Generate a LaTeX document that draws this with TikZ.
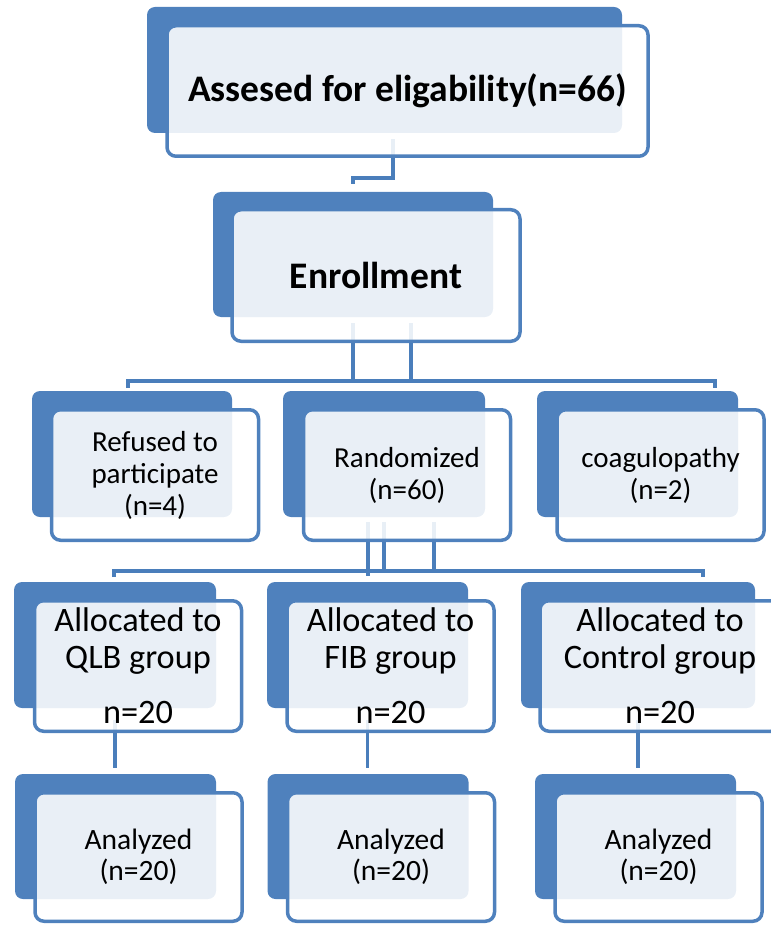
\documentclass[tikz,border=0pt]{standalone}
\usepackage{fontspec}
\setmainfont{Carlito}
\usepackage{xcolor}
\definecolor{smartblue}{RGB}{79,129,189}
\definecolor{linkblue}{RGB}{74,126,187}
\usepackage{tikz}
\usetikzlibrary{calc, backgrounds}
\tikzset{
  backbox/.style={
    rectangle, rounded corners=8pt, fill=smartblue, inner sep=0pt,
    minimum width=201pt, minimum height=126pt
  },
  frontbox/.style={
    rectangle, rounded corners=9pt, draw=smartblue, line width=3.5pt,
    fill=white, fill opacity=0.88, text opacity=1, inner sep=0pt,
    minimum width=207pt, minimum height=130.5pt,
    text centered, align=center, font=\fontsize{29}{32}\selectfont
  },
  headfont/.style={font=\fontsize{37.5}{44}\selectfont\bfseries},
  groupfont/.style={font=\fontsize{34.3}{36.5}\selectfont},
  countfont/.style={font=\fontsize{29.5}{31.5}\selectfont},
  link/.style={draw=linkblue, line width=3.5pt},
}

\begin{document}
\begin{tikzpicture}[x=1pt, y=1pt]
  \useasboundingbox (0,0) rectangle (770,-925);

  % back plates
  \node (elig-b) [backbox, minimum width=475pt] at (384.5,-70)  {};
  \node (enr-b)  [backbox, minimum width=280pt, minimum height=125pt] at (353,-254.5) {};
  \node (ref-b)  [backbox, minimum width=200pt] at (132,-454)   {};
  \node (rand-b) [backbox, minimum width=202pt] at (384,-454)   {};
  \node (coag-b) [backbox]                      at (637.5,-454) {};
  \node (qlb-b)  [backbox, minimum width=202pt] at (115,-645)   {};
  \node (fib-b)  [backbox]                      at (367.5,-645) {};
  \node (ctrl-b) [backbox, minimum width=234pt] at (638,-645)   {};
  \node (an1-b)  [backbox, minimum height=125pt] at (115.5,-836.5) {};
  \node (an2-b)  [backbox, minimum height=125pt] at (368,-836.5)   {};
  \node (an3-b)  [backbox, minimum height=125pt] at (635.5,-836.5) {};

  % front boxes
  \node (elig) [frontbox, headfont, minimum width=481pt] at ([shift={(23pt,-21pt)}]elig-b) {Assesed for eligability(n=66)};
  \node (enr)  [frontbox, headfont, minimum width=288pt, minimum height=131.5pt] at ([shift={(23pt,-21pt)}]enr-b) {Enrollment};
  \node (ref)  [frontbox] at ([shift={(23pt,-21pt)}]ref-b)  {Refused to\\participate\\(n=4)};
  \node (rand) [frontbox] at ([shift={(23pt,-21pt)}]rand-b) {Randomized\\(n=60)};
  \node (coag) [frontbox] at ([shift={(23pt,-21pt)}]coag-b) {coagulopathy\\(n=2)};
  \node (qlb)  [frontbox, groupfont] at ([shift={(23pt,-21pt)}]qlb-b) {Allocated to\\QLB group\\[19pt]n=20};
  \node (fib)  [frontbox, groupfont] at ([shift={(23pt,-21pt)}]fib-b) {Allocated to\\FIB group\\[19pt]n=20};
  \node (ctrl) [frontbox, groupfont, minimum width=240pt] at ([shift={(22pt,-21pt)}]ctrl-b) {Allocated to\\Control group\\[19pt]n=20};
  \node (an1)  [frontbox, countfont, minimum height=128.5pt] at ([shift={(23pt,-20.5pt)}]an1-b) {Analyzed\\(n=20)};
  \node (an2)  [frontbox, countfont, minimum height=128.5pt] at ([shift={(23pt,-20.5pt)}]an2-b) {Analyzed\\(n=20)};
  \node (an3)  [frontbox, countfont, minimum height=128.5pt] at ([shift={(23pt,-20.5pt)}]an3-b) {Analyzed\\(n=20)};

  \coordinate (bus1w) at (128,-381);
  \coordinate (bus1e) at (715,-381);
  \coordinate (bus2w) at (114,-571);
  \coordinate (bus2e) at (703,-571);

  \begin{scope}[on background layer]
    \draw [link] ([xshift=8.5pt,yshift=-6pt]elig-b.south) |- ([yshift=14pt]enr-b.north) -- ([yshift=8pt]enr-b.north);

    \draw [link] ([yshift=-6pt]enr-b.south) -- (enr-b.south |- bus1w);
    \draw [link] ([xshift=58pt,yshift=-6pt]enr-b.south) -- ($(enr-b.south |- bus1w)+(58,0)$);
    \draw [link] ([yshift=-7pt]bus1w) -- (bus1w) -- (bus1e) -- ([yshift=-7pt]bus1e);

    \draw [link] ([xshift=-16pt,yshift=-5pt]rand-b.south) -- ($(rand-b.south |- bus2w)+(-16,-5)$);
    \draw [link] ([yshift=-5pt]rand-b.south) -- (rand-b.south |- bus2w);
    \draw [link] ([xshift=50pt,yshift=-5pt]rand-b.south) -- ($(rand-b.south |- bus2w)+(50,0)$);
    \draw [link] ([yshift=-6pt]bus2w) -- (bus2w) -- (bus2e) -- ([yshift=-6pt]bus2e);

    \foreach \a/\b in {qlb/an1, fib/an2, ctrl/an3}
      \draw [link] ([yshift=-12pt]\a-b.south) -- ($(\a-b.south |- \b-b.north)+(0,6)$);
  \end{scope}
\end{tikzpicture}
\end{document}
